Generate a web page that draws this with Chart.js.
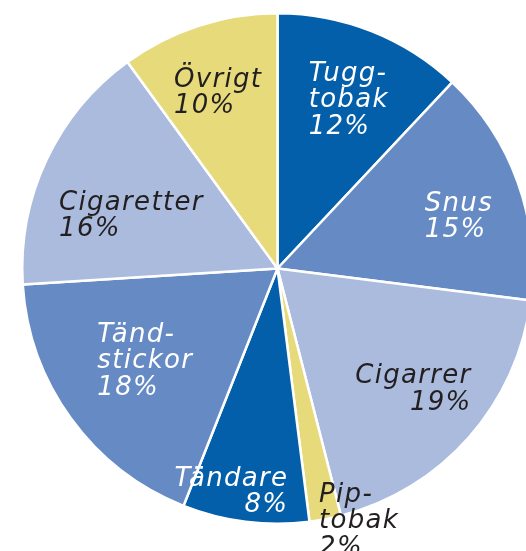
<!DOCTYPE html>
<html>
<head>
<meta charset="utf-8">
<script src="https://cdn.jsdelivr.net/npm/chart.js@4"></script>
<style>
  html, body { margin: 0; padding: 0; background: #fff; overflow: hidden; }
  #wrap { width: 560px; height: 551px; }
</style>
</head>
<body>
<div id="wrap"><canvas id="pieChart" width="560" height="551"></canvas></div>
<script>
// categories (label lines) and shares in percent, clockwise from the top
const categories = [
  ["Tugg-", "tobak"],
  ["Snus"],
  ["Cigarrer"],
  ["Pip-", "tobak"],
  ["Tändare"],
  ["Tänd-", "stickor"],
  ["Cigaretter"],
  ["Övrigt"]
];
const shares = [12, 15, 19, 2, 8, 18, 16, 10];

const sliceColors = ["#035fa9", "#668ac4", "#aabbdd", "#e6da7b", "#035fa9", "#668ac4", "#aabbdd", "#e6da7b"];
const textColors = ["#fff", "#fff", "#231f20", "#231f20", "#fff", "#fff", "#231f20", "#231f20"];

// where each label sits: fraction of radius, angle shift (deg), text alignment
const labelPlace = [
  [0.72, 1.2, "left"],
  [0.74, 3.6, "left"],
  [0.71, 0, "right"],
  [1.035, -7.2, "left"],
  [0.89, 4.5, "right"],
  [0.63, 1.3, "left"],
  [0.61, -5, "left"],
  [0.73, -0.6, "left"]
];

const pieLabels = {
  id: "pieLabels",
  afterDatasetsDraw(chart) {
    const ctx = chart.ctx;
    const arcs = chart.getDatasetMeta(0).data;
    ctx.save();
    ctx.font = "italic 26px 'DejaVu Sans'";
    ctx.letterSpacing = "1.3px";
    ctx.textBaseline = "alphabetic";
    const lineH = 26.5;

    arcs.forEach((arc, i) => {
      const p = arc.getProps(["x", "y", "startAngle", "endAngle", "outerRadius"], true);
      const [frac, shift, align] = labelPlace[i];
      const a = (p.startAngle + p.endAngle) / 2 + shift * Math.PI / 180;
      const cx = p.x + Math.cos(a) * p.outerRadius * frac;
      const cy = p.y + Math.sin(a) * p.outerRadius * frac;

      const lines = categories[i].concat([shares[i] + "%"]);
      const widths = lines.map(l => ctx.measureText(l).width);
      const maxW = Math.max(...widths);
      const blockH = lines.length * lineH;
      const top = cy - blockH / 2;

      ctx.fillStyle = textColors[i];
      lines.forEach((l, j) => {
        const y = top + (j + 1) * lineH - 5;
        let x;
        if (align === "left") {
          x = cx - maxW / 2;
          ctx.textAlign = "left";
        } else {
          x = cx + maxW / 2;
          ctx.textAlign = "right";
        }
        ctx.fillText(l, x, y);
      });
    });
    ctx.restore();
  }
};

new Chart(document.getElementById("pieChart").getContext("2d"), {
  type: "pie",
  data: {
    labels: categories.map(c => c.join("")),
    datasets: [{
      data: shares,
      backgroundColor: sliceColors,
      borderColor: "#fff",
      borderWidth: 2.5
    }]
  },
  options: {
    responsive: false,
    animation: false,
    layout: {
      padding: { left: 21, top: 12, right: 26, bottom: 26 }
    },
    plugins: {
      legend: { display: false },
      tooltip: { enabled: false }
    }
  },
  plugins: [pieLabels]
});
</script>
</body>
</html>
